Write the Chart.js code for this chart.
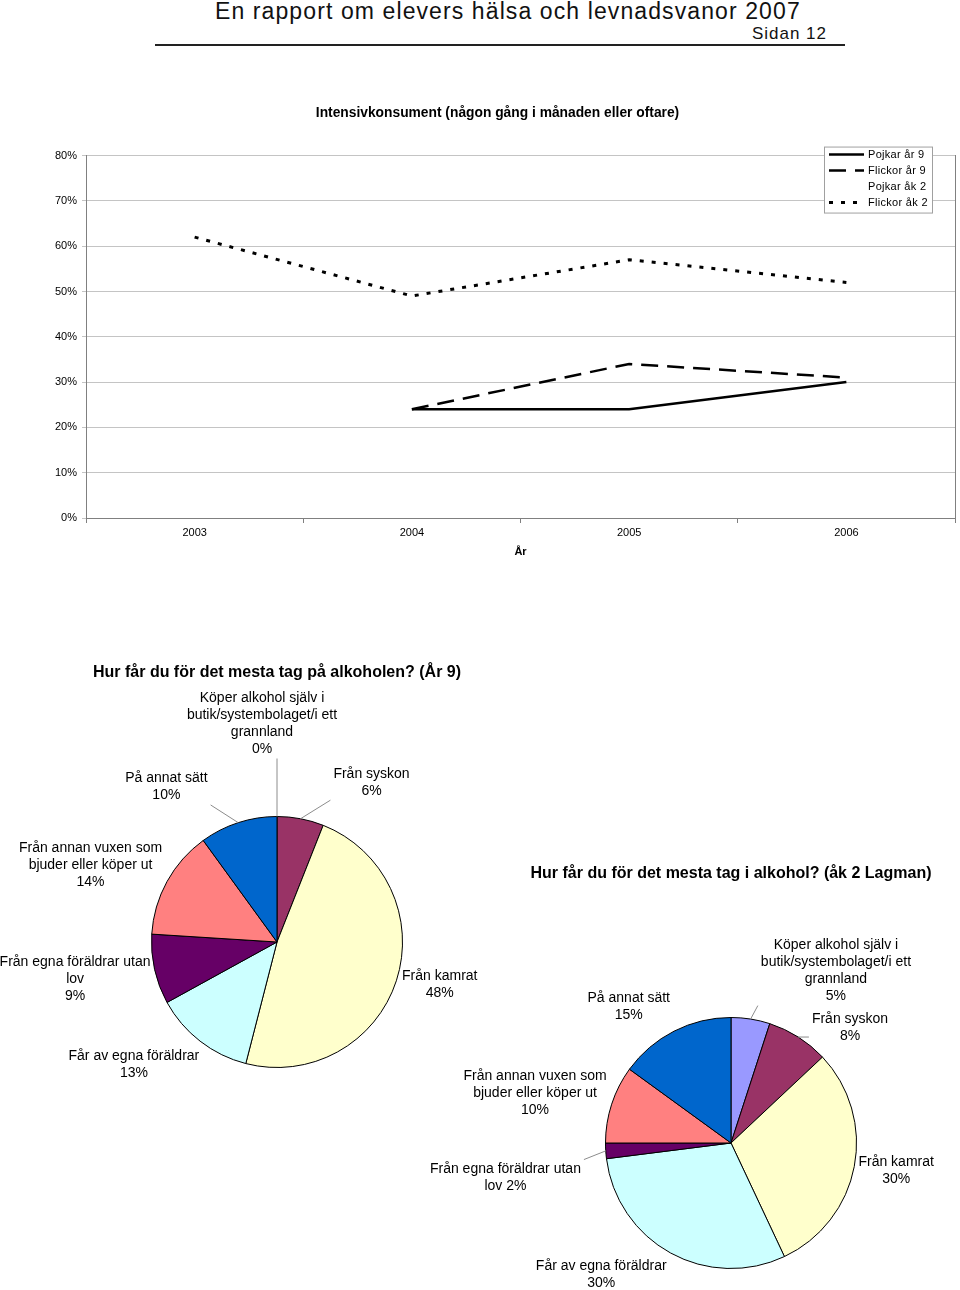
<!DOCTYPE html>
<html>
<head>
<meta charset="utf-8">
<script src="https://cdn.jsdelivr.net/npm/chart.js@4.4.0/dist/chart.umd.min.js"></script>
<style>
  body { margin: 0; background: #fff; font-family: 'Liberation Sans', Arial, sans-serif; }
  #page { position: relative; width: 960px; height: 1290px; overflow: hidden; }
  .abs { position: absolute; }
  #head { left: 215px; top: 0; font-size: 23px; line-height: 23px; letter-spacing: 1.1px; color: #111; white-space: nowrap; }
  #sida { right: 133px; top: 25px; font-size: 17px; line-height: 17px; letter-spacing: 1px; color: #111; }
  #rule { left: 155px; top: 44px; width: 690px; height: 2px; background: #222; }
</style>
</head>
<body>
<div id="page">
  <div id="head" class="abs">En rapport om elevers hälsa och levnadsvanor 2007</div>
  <div id="sida" class="abs">Sidan 12</div>
  <div id="rule" class="abs"></div>
  <div class="abs" style="left:40px;top:95px;width:920px;height:475px"><canvas id="lineChart"></canvas></div>
  <div class="abs" style="left:0;top:640px;width:960px;height:650px"><canvas id="pie9"></canvas></div>
  <div class="abs" style="left:0;top:640px;width:960px;height:650px"><canvas id="pie2"></canvas></div>
</div>
<script>
const FONT = "'Liberation Sans', Arial, sans-serif";

// line chart data (percent)
const years = ['2003', '2004', '2005', '2006'];
const pojkarAr9 = [null, 24, 24, 30];
const flickorAr9 = [null, 24, 34, 31];
const pojkarAk2 = [null, null, null, null];
const flickorAk2 = [62, 49, 57, 52];

// pie data (percent)
const sources = [
  'Köper alkohol själv i butik/systembolaget/i ett grannland',
  'Från syskon',
  'Från kamrat',
  'Får av egna föräldrar',
  'Från egna föräldrar utan lov',
  'Från annan vuxen som bjuder eller köper ut',
  'På annat sätt'
];
const ar9Values = [0, 6, 48, 13, 9, 14, 10];
const ak2Values = [5, 8, 30, 30, 2, 10, 15];
const sliceColors = ['#9999FF', '#993366', '#FFFFCC', '#CCFFFF', '#660066', '#FF8080', '#0066CC'];

// legend box inside the plot, top right
const legendBox = {
  id: 'legendBox',
  afterDraw(chart) {
    const { ctx, chartArea } = chart;
    const w = 108, h = 66;
    const x = chartArea.right - 23 - w, y = chartArea.top - 9;
    ctx.save();
    ctx.fillStyle = '#fff';
    ctx.fillRect(x, y, w, h);
    ctx.strokeStyle = '#a0a0a0';
    ctx.lineWidth = 1;
    ctx.strokeRect(x + 0.5, y + 0.5, w, h);
    ctx.font = '11px ' + FONT;
    ctx.letterSpacing = '0.3px';
    ctx.textBaseline = 'middle';
    chart.data.datasets.forEach((ds, i) => {
      const ly = y + 8 + i * 16;
      if (ds.borderWidth > 0) {
        ctx.beginPath();
        ctx.setLineDash(ds.borderDash || []);
        ctx.lineWidth = ds.borderWidth;
        ctx.strokeStyle = ds.borderColor;
        ctx.moveTo(x + 5, ly);
        ctx.lineTo(x + 40, ly);
        ctx.stroke();
      }
      ctx.setLineDash([]);
      ctx.fillStyle = '#000';
      ctx.fillText(ds.label, x + 44, ly);
    });
    ctx.restore();
  }
};

new Chart(document.getElementById('lineChart'), {
  type: 'line',
  data: {
    labels: years,
    datasets: [
      { label: 'Pojkar år 9', data: pojkarAr9, borderColor: '#000', borderWidth: 2.5, borderDash: [] },
      { label: 'Flickor år 9', data: flickorAr9, borderColor: '#000', borderWidth: 2.5, borderDash: [17, 9] },
      { label: 'Pojkar åk 2', data: pojkarAk2, borderColor: '#000', borderWidth: 0 },
      { label: 'Flickor åk 2', data: flickorAk2, borderColor: '#000', borderWidth: 3, borderDash: [4, 8] }
    ]
  },
  options: {
    responsive: true,
    maintainAspectRatio: false,
    animation: false,
    elements: { point: { radius: 0 }, line: { tension: 0, fill: false, borderCapStyle: 'butt' } },
    layout: { padding: { left: 0, right: 5, top: 0, bottom: 0 } },
    scales: {
      x: {
        offset: true,
        grid: { offset: true, drawOnChartArea: false, drawTicks: true, tickLength: 5, color: '#808080' },
        border: { color: '#808080' },
        ticks: { color: '#000', padding: 3, font: { size: 11, family: FONT } },
        title: { display: true, text: 'År', color: '#000', font: { size: 11, weight: 'bold', family: FONT }, padding: { top: 0, bottom: 11 } },
        afterFit(scale) { scale.height = 52; }
      },
      y: {
        min: 0,
        max: 80,
        grid: { color: '#c4c4c4', tickLength: 4 },
        border: { color: '#808080' },
        ticks: { stepSize: 10, padding: 5, color: '#000', font: { size: 11, family: FONT }, callback: v => v + '%' },
        afterFit(scale) { scale.width = 46; }
      },
      y1: {
        position: 'right',
        grid: { drawOnChartArea: false, drawTicks: false },
        border: { display: true, color: '#808080' },
        ticks: { display: false },
        afterFit(scale) { scale.width = 0; }
      }
    },
    plugins: {
      legend: { display: false },
      tooltip: { enabled: false },
      title: {
        display: true,
        text: 'Intensivkonsument (någon gång i månaden eller oftare)',
        color: '#000',
        font: { size: 13.8, weight: 'bold', family: FONT },
        padding: { top: 10, bottom: 34 }
      }
    }
  },
  plugins: [legendBox]
});

function wrapText(ctx, text, maxW) {
  const words = text.split(' ');
  const lines = [];
  let cur = '';
  words.forEach(wd => {
    const test = cur ? cur + ' ' + wd : wd;
    if (ctx.measureText(test).width > maxW && cur) {
      lines.push(cur);
      cur = wd;
    } else {
      cur = test;
    }
  });
  if (cur) lines.push(cur);
  return lines;
}

// title above the pie + outside labels with leader lines
const pieLabels = {
  id: 'pieLabels',
  afterDraw(chart, args, opts) {
    const { ctx, chartArea } = chart;
    const meta = chart.getDatasetMeta(0);
    const values = chart.data.datasets[0].data;
    ctx.save();
    ctx.fillStyle = '#000';
    ctx.textAlign = 'center';
    ctx.textBaseline = 'middle';
    ctx.font = 'bold 16px ' + FONT;
    ctx.fillText(opts.title, (chartArea.left + chartArea.right) / 2, chartArea.top - 143);

    ctx.font = '14px ' + FONT;
    const lh = 17;
    meta.data.forEach((arc, i) => {
      const p = arc.getProps(['x', 'y', 'startAngle', 'endAngle', 'outerRadius'], true);
      const mid = (p.startAngle + p.endAngle) / 2;
      const ux = Math.cos(mid), uy = Math.sin(mid);
      const lines = wrapText(ctx, chart.data.labels[i], 160);
      const pct = values[i] + '%';
      if (opts.inlinePct.includes(i)) lines[lines.length - 1] += ' ' + pct;
      else lines.push(pct);
      const w = Math.max(...lines.map(l => ctx.measureText(l).width));
      const h = lines.length * lh;
      const nd = opts.nudge[i] || [0, 0];
      const cx = p.x + (p.outerRadius + 10) * ux + ux * w / 2 + nd[0];
      const cy = p.y + (p.outerRadius + 10) * uy + uy * h / 2 + nd[1];

      const ax = p.x + p.outerRadius * ux, ay = p.y + p.outerRadius * uy;
      const bx = Math.max(cx - w / 2 - 3, Math.min(ax, cx + w / 2 + 3));
      const by = Math.max(cy - h / 2 - 1, Math.min(ay, cy + h / 2 + 1));
      if (Math.hypot(bx - ax, by - ay) > 10) {
        ctx.beginPath();
        ctx.strokeStyle = '#8c8c8c';
        ctx.lineWidth = 1;
        ctx.moveTo(ax, ay);
        ctx.lineTo(bx, by);
        ctx.stroke();
      }
      lines.forEach((l, k) => ctx.fillText(l, cx, cy - h / 2 + lh / 2 + k * lh));
    });
    ctx.restore();
  }
};

function pieConfig(values, padding, title, nudge, inlinePct) {
  return {
    type: 'pie',
    data: {
      labels: sources,
      datasets: [{ data: values, backgroundColor: sliceColors, borderColor: '#000', borderWidth: 1 }]
    },
    options: {
      responsive: true,
      maintainAspectRatio: false,
      animation: false,
      layout: { padding },
      plugins: {
        legend: { display: false },
        tooltip: { enabled: false },
        pieLabels: { title, nudge, inlinePct }
      }
    },
    plugins: [pieLabels]
  };
}

new Chart(document.getElementById('pie9'), pieConfig(
  ar9Values,
  { left: 151, right: 557, top: 176, bottom: 222 },
  'Hur får du för det mesta tag på alkoholen? (År 9)',
  [[-15, -49], [62, -10], [-2, -4], [-20, 2], [4, 2], [-5, 1], [-56, -10]],
  []
));

new Chart(document.getElementById('pie2'), pieConfig(
  ak2Values,
  { left: 605, right: 103, top: 377, bottom: 21 },
  'Hur får du för det mesta tag i alkohol? (åk 2 Lagman)',
  [[72, -5], [26, 13], [-5, -1], [-33, -2], [-15, 25], [1, 0], [-22, 0]],
  [4]
));
</script>
</body>
</html>
